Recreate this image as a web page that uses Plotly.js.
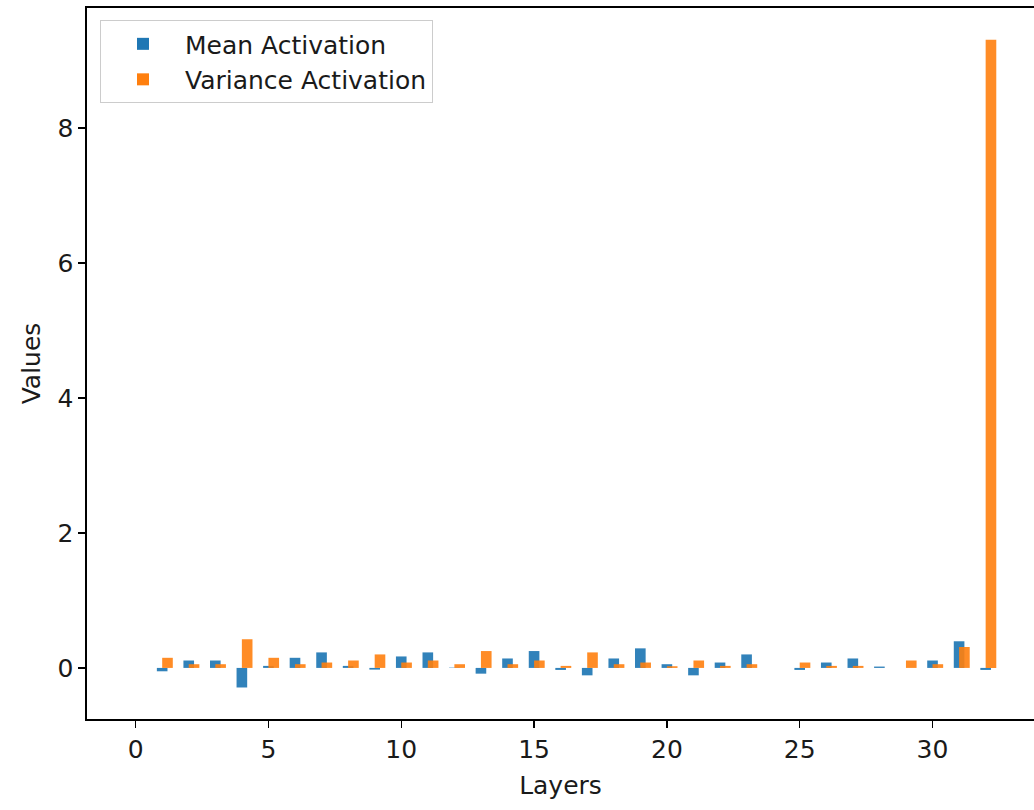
<!DOCTYPE html>
<html>
<head>
<meta charset="utf-8">
<script src="https://cdn.plot.ly/plotly-3.0.1.min.js"></script>
<style>html,body{margin:0;padding:0;background:#fff;}#chart{width:1034px;height:810px;}</style>
</head>
<body>
<div id="chart"></div>
<script>
const layers = [0,1,2,3,4,5,6,7,8,9,10,11,12,13,14,15,16,17,18,19,20,21,22,23,24,25,26,27,28,29,30,31,32];
const meanActivation = [0,-0.05,0.11,0.11,-0.29,0.03,0.15,0.23,0.03,-0.025,0.17,0.23,0.005,-0.085,0.14,0.25,-0.03,-0.11,0.14,0.29,0.055,-0.11,0.08,0.2,0,-0.03,0.08,0.14,0.02,0,0.11,0.395,-0.03];
const varianceActivation = [0,0.15,0.055,0.055,0.425,0.15,0.055,0.08,0.11,0.2,0.08,0.11,0.055,0.25,0.055,0.11,0.03,0.23,0.055,0.08,0.025,0.11,0.03,0.055,0,0.08,0.03,0.03,0,0.11,0.055,0.31,9.31];
const xTicks = [0,5,10,15,20,25,30];
const yTicks = [0,2,4,6,8];

const font = {family: 'DejaVu Sans, sans-serif', size: 25, color: '#1a1a1a'};

const traces = [
  {type: 'bar', name: 'Mean Activation', x: layers, y: meanActivation, width: 0.4, offset: -0.2,
   marker: {color: '#1f77b4', opacity: 0.92, line: {width: 0}}},
  {type: 'bar', name: 'Variance Activation', x: layers, y: varianceActivation, width: 0.4, offset: 0,
   marker: {color: '#ff7f0e', opacity: 0.9, line: {width: 0}}}
];

const layout = {
  width: 1034, height: 810,
  margin: {l: 87, r: 0, t: 8, b: 91, pad: 0},
  paper_bgcolor: '#fff', plot_bgcolor: '#fff',
  font: font,
  barmode: 'overlay',
  showlegend: true,
  legend: {x: 0.0137, y: 0.983, xanchor: 'left', yanchor: 'top', bgcolor: 'rgba(255,255,255,0.8)',
           bordercolor: '#cccccc', borderwidth: 1, font: font,
           itemwidth: 74, tracegroupgap: 4},
  xaxis: {range: [-1.83, 33.82], tickvals: xTicks, ticktext: xTicks.map(String), ticks: 'outside', ticklen: 7,
          tickwidth: 1.3, tickcolor: '#000', showline: true, linecolor: '#000', linewidth: 1.6, mirror: true,
          showgrid: false, zeroline: false, title: {text: 'Layers', font: font, standoff: 14}, tickfont: font},
  yaxis: {range: [-0.757, 9.78], tickvals: yTicks, ticktext: yTicks.map(String), ticks: 'outside', ticklen: 7,
          tickwidth: 1.3, tickcolor: '#000', showline: true, linecolor: '#000', linewidth: 1.6, mirror: false,
          showgrid: false, zeroline: false, title: {text: 'Values', font: font, standoff: 10}, tickfont: font}
};

Plotly.newPlot('chart', traces, layout, {displayModeBar: false, staticPlot: true});
</script>
</body>
</html>
